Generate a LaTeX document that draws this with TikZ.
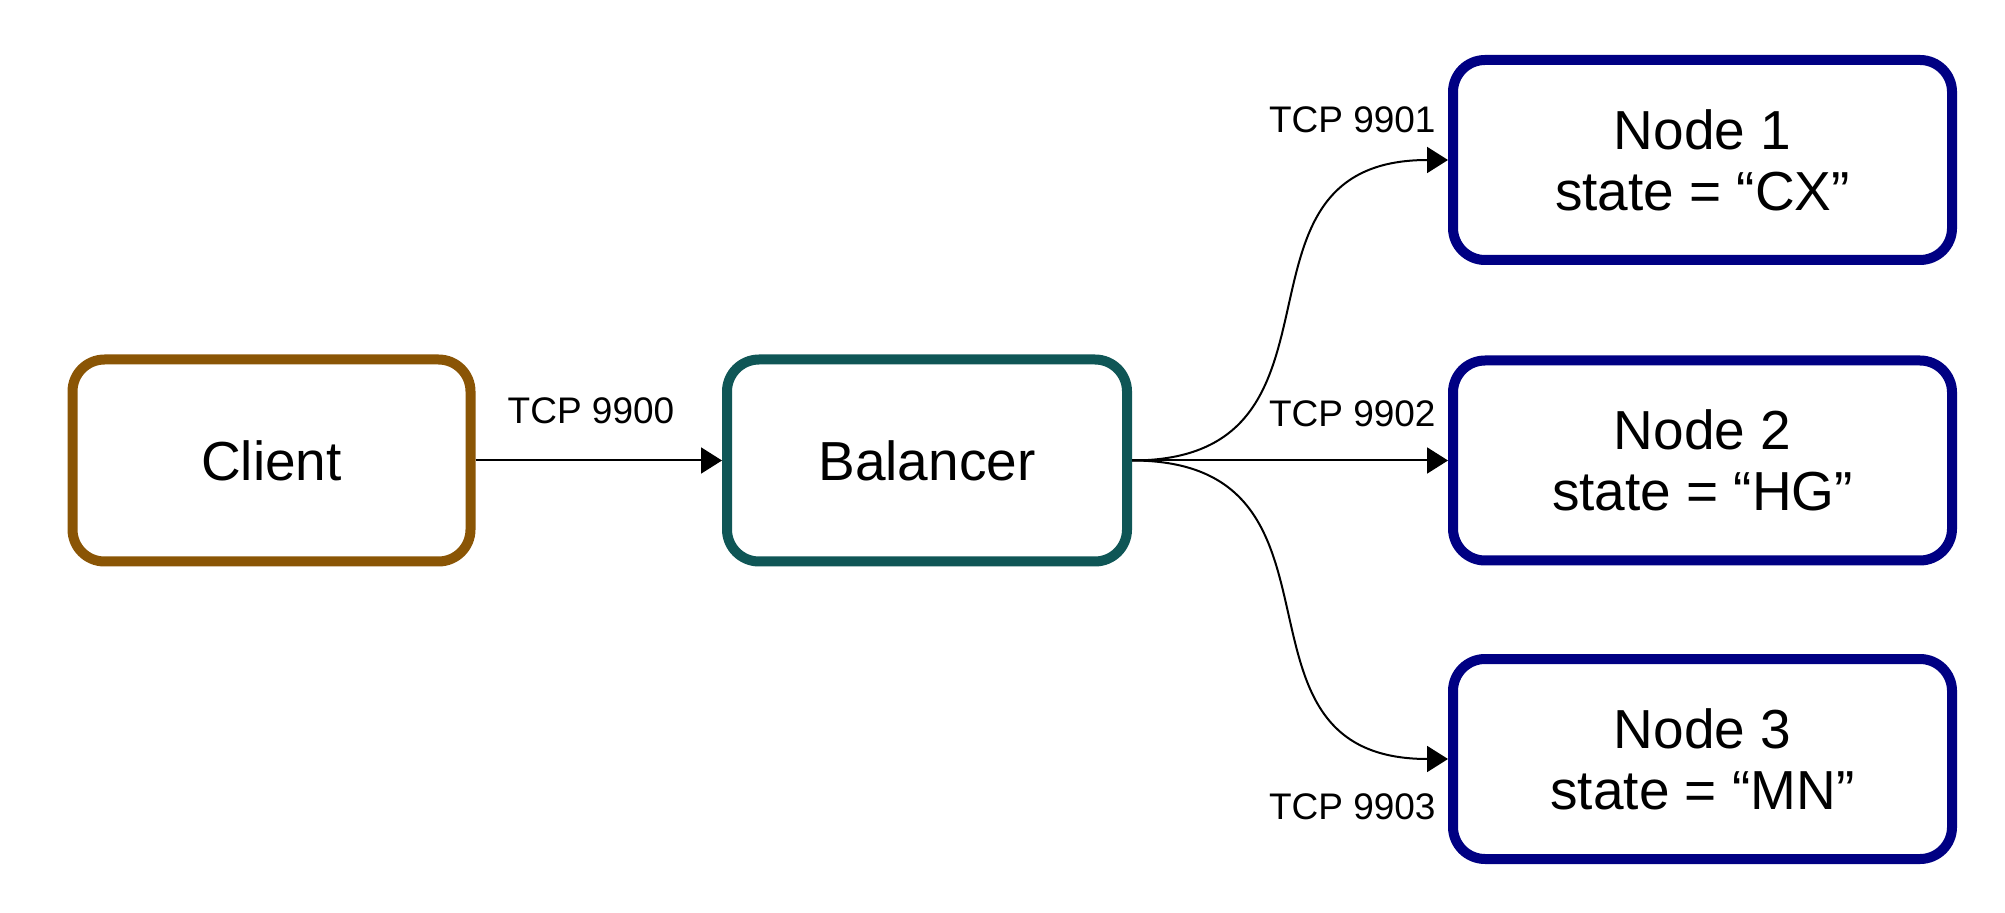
\documentclass[tikz,border=0pt]{standalone}
\usepackage{fontspec}
\setmainfont{Liberation Sans}
\usetikzlibrary{arrows.meta}
\definecolor{clientc}{HTML}{8A5505}
\definecolor{balc}{HTML}{0F5656}
\definecolor{nodec}{HTML}{000083}
\tikzset{
  box/.style={draw, line width=5pt, rounded corners=16pt, fill=white, align=center,
    font=\fontsize{27.5pt}{30.5pt}\selectfont, inner sep=0pt},
  clientbox/.style={box, draw=clientc, minimum width=199pt, minimum height=101pt},
  balbox/.style={box, draw=balc, minimum width=200pt, minimum height=101pt},
  workbox/.style={box, draw=nodec, minimum width=249.5pt, minimum height=100pt},
  conn/.style={line width=1pt, -{Triangle[length=10.5pt, width=13pt]}},
  curved/.style={conn, out=0, in=180, looseness=1.4},
  lbl/.style={font=\fontsize{18.5pt}{20pt}\selectfont, inner sep=0pt},
}
\begin{document}
\begin{tikzpicture}[x=0.5pt, y=-0.5pt]
\useasboundingbox (0,0) rectangle (2005,913);
\node[clientbox] (client) at (271.5,460.5) {Client};
\node[balbox] (bal) at (927,460.5) {Balancer};
\node[workbox] (n1) at (1702.5,160) {Node 1\\state = “CX”};
\node[workbox] (n2) at (1702.5,460.5) {Node 2\\state = “HG”};
\node[workbox] (n3) at (1702.5,759) {Node 3\\state = “MN”};
\draw[conn] (client.east) -- (bal.west);
\draw[curved] (bal.east) to (n1.west);
\draw[conn] (bal.east) -- (n2.west);
\draw[curved] (bal.east) to (n3.west);
\node[lbl] (l0) at (591,410.5) {TCP 9900};
\node[lbl, anchor=east] (l1) at (1436,120) {TCP 9901};
\node[lbl, anchor=east] (l2) at (1436,414) {TCP 9902};
\node[lbl, anchor=east] (l3) at (1436,807) {TCP 9903};
\end{tikzpicture}
\end{document}
